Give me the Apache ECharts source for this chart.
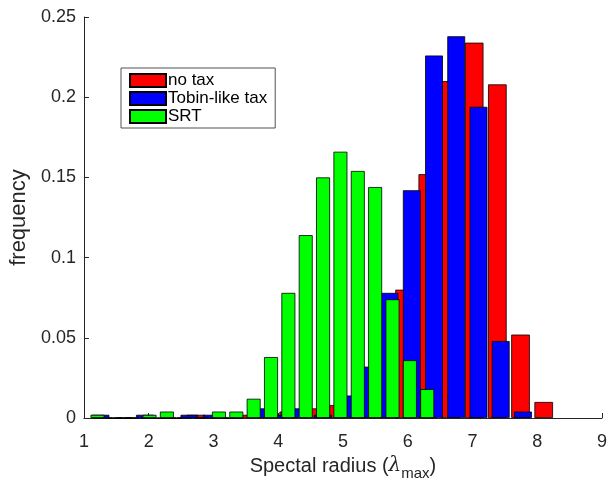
<!DOCTYPE html>
<html>
<head>
<meta charset="utf-8">
<script src="https://cdn.jsdelivr.net/npm/echarts@6/dist/echarts.min.js"></script>
<style>
html,body{margin:0;padding:0;background:#fff;}
#chart{width:610px;height:486px;}
</style>
</head>
<body>
<div id="chart"></div>
<script>
const seriesNames = ['no tax', 'Tobin-like tax', 'SRT'];

const binsNoTax = [1.298, 1.656, 2.014, 2.372, 2.730, 3.088, 3.446, 3.804, 4.162, 4.520,
                   4.878, 5.236, 5.594, 5.952, 6.310, 6.668, 7.026, 7.384, 7.742, 8.100];
const freqNoTax = [0, 0, 0, 0, 0.002, 0, 0.002, 0.002, 0.004, 0.006,
                   0.008, 0.010, 0.020, 0.080, 0.152, 0.210, 0.234, 0.208, 0.052, 0.010];

const binsTobin = [1.255, 1.598, 1.942, 2.285, 2.629, 2.972, 3.315, 3.659, 4.002, 4.346,
                   4.689, 5.032, 5.376, 5.719, 6.063, 6.406, 6.749, 7.093, 7.436, 7.780];
const freqTobin = [0.002, 0, 0.002, 0, 0.002, 0.002, 0, 0.006, 0.002, 0.006,
                   0.002, 0.014, 0.032, 0.078, 0.142, 0.226, 0.238, 0.194, 0.048, 0.004];

const binsSRT = [1.209, 1.477, 1.745, 2.013, 2.281, 2.549, 2.817, 3.085, 3.353, 3.621,
                 3.889, 4.157, 4.425, 4.693, 4.961, 5.229, 5.497, 5.765, 6.033, 6.301];
const freqSRT = [0.002, 0, 0, 0.002, 0.004, 0, 0, 0.004, 0.004, 0.012,
                 0.038, 0.078, 0.114, 0.150, 0.166, 0.154, 0.144, 0.074, 0.036, 0.018];

const xMin = 1, xMax = 9, xStep = 1;
const yMin = 0, yMax = 0.25, yStep = 0.05;

const FONT = '"Liberation Sans", Arial, Helvetica, sans-serif';
const AX = '#262626';
const gridLeft = 83, gridRight = 7, gridTop = 17, gridBottom = 61;
const plotW = 610 - gridLeft - gridRight;
const pxPerUnit = plotW / (xMax - xMin);

function pairs(xs, ys) { return xs.map((x, i) => [x, ys[i]]); }
function barW(xs) { return 0.8 * (xs[1] - xs[0]) * pxPerUnit; }

const hiddenX = {
  type: 'value', min: xMin, max: xMax, interval: xStep, show: false
};

const chart = echarts.init(document.getElementById('chart'), null, {renderer: 'canvas'});
chart.setOption({
  animation: false,
  backgroundColor: '#fff',
  textStyle: {fontFamily: FONT},
  grid: {left: gridLeft, right: gridRight, top: gridTop, bottom: gridBottom, containLabel: false},
  legend: {
    data: seriesNames,
    orient: 'vertical',
    left: 121, top: 68,
    itemWidth: 36, itemHeight: 13, itemGap: 1,
    padding: [4, 8, 3, 8],
    borderColor: '#262626', borderWidth: 0.8,
    backgroundColor: '#fff',
    icon: 'rect',
    textStyle: {fontFamily: FONT, fontSize: 17, color: '#000', padding: [0, 0, 0, -3]}
  },
  xAxis: [
    {
      type: 'value', min: xMin, max: xMax, interval: xStep,
      name: 'Spectal radius ({l|λ}{s|max})',
      nameLocation: 'middle', nameGap: 33,
      nameTextStyle: {
        fontFamily: FONT, fontSize: 20, color: AX,
        rich: {
          l: {fontFamily: '"DejaVu Serif", serif', fontStyle: 'italic', fontSize: 20, color: AX},
          s: {fontFamily: FONT, fontSize: 15, color: AX, padding: [15, 0, 0, 0]}
        }
      },
      axisLine: {show: true, lineStyle: {color: AX, width: 1}},
      axisTick: {show: true, inside: true, length: 5, lineStyle: {color: AX}},
      axisLabel: {fontFamily: FONT, fontSize: 18, color: AX, margin: 15},
      splitLine: {show: false}
    },
    hiddenX, hiddenX
  ],
  yAxis: {
    type: 'value', min: yMin, max: yMax, interval: yStep,
    name: 'frequency', nameLocation: 'middle', nameGap: 51, nameRotate: 90,
    nameTextStyle: {fontFamily: FONT, fontSize: 22, color: AX},
    axisLine: {show: true, lineStyle: {color: AX, width: 1}},
    axisTick: {show: true, inside: true, length: 5, lineStyle: {color: AX}},
    axisLabel: {fontFamily: FONT, fontSize: 18, color: AX, margin: 8},
    splitLine: {show: false}
  },
  series: [
    {
      name: seriesNames[0], type: 'bar', xAxisIndex: 0,
      data: pairs(binsNoTax, freqNoTax), barWidth: barW(binsNoTax),
      itemStyle: {color: '#ff0000', borderColor: '#000', borderWidth: 0.8}
    },
    {
      name: seriesNames[1], type: 'bar', xAxisIndex: 1,
      data: pairs(binsTobin, freqTobin), barWidth: barW(binsTobin),
      itemStyle: {color: '#0000ff', borderColor: '#000', borderWidth: 0.8}
    },
    {
      name: seriesNames[2], type: 'bar', xAxisIndex: 2,
      data: pairs(binsSRT, freqSRT), barWidth: barW(binsSRT),
      itemStyle: {color: '#00ff00', borderColor: '#000', borderWidth: 0.8}
    }
  ]
});
</script>
</body>
</html>
